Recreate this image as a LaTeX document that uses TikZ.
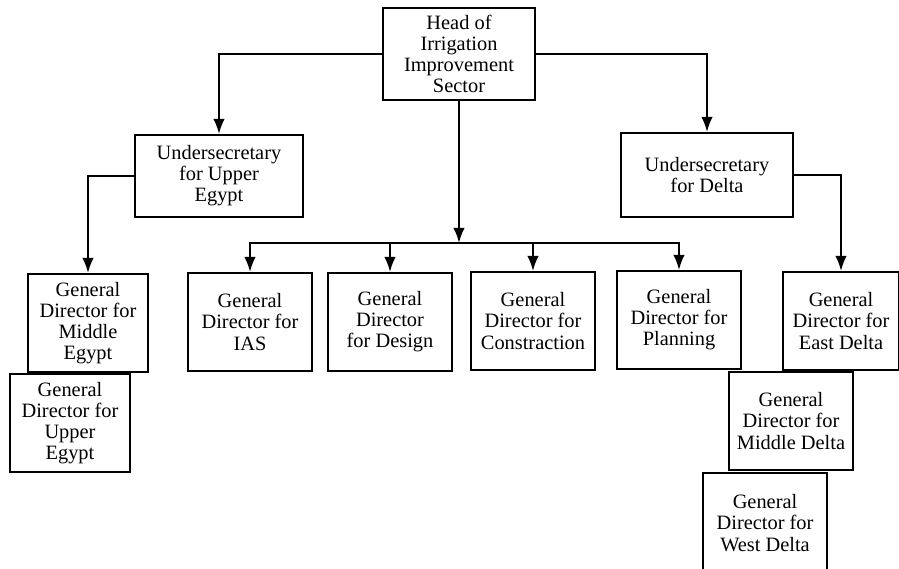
\documentclass[tikz,border=0pt]{standalone}
\usepackage{fontspec}
\setmainfont{Liberation Serif}
\usetikzlibrary{arrows.meta,positioning}

\begin{document}
\begin{tikzpicture}[
  x=0.025cm,y=-0.025cm,
  box/.style={draw, line width=1.3pt, align=center, inner sep=2pt, font=\fontsize{14.5}{15}\selectfont},
  gd/.style={box, minimum width=3.1cm, minimum height=2.45cm},
  arr/.style={-{Latex[length=3.8mm,width=2.9mm]}, line width=1.6pt}
]
\useasboundingbox (0,0) rectangle (899,569);
\node[box, minimum width=3.8cm, minimum height=2.3cm] (head) at (459,54) {Head of\\Irrigation\\Improvement\\Sector};
\node[box, minimum width=4.2cm, minimum height=2.05cm] (usUpper) at (219,176) {Undersecretary\\for Upper\\Egypt};
\node[box, minimum width=4.28cm, minimum height=2.1cm] (usDelta) at (707,175) {Undersecretary\\for Delta};
\node[gd, minimum width=3cm] (gdMidEgypt) at (88,323) {General\\Director for\\Middle\\Egypt};
\node[gd, minimum width=3cm] (gdUpEgypt) at (70,423) {General\\Director for\\Upper\\Egypt};
\node[gd] (gdIAS) at (250,322) {General\\Director for\\IAS};
\node[gd] (gdDesign) at (390,322) {General\\Director\\for Design};
\node[gd] (gdConstr) at (533,321) {General\\Director for\\Constraction};
\node[gd] (gdPlan) at (679,320) {General\\Director for\\Planning};
\node[gd, minimum width=2.9cm] (gdEast) at (841,321) {General\\Director for\\East Delta};
\node[gd] (gdMidDelta) at (791,421) {General\\Director for\\Middle Delta};
\node[gd, minimum height=2.5cm] (gdWest) at (765,523) {General\\Director for\\West Delta};
\coordinate (bar) at (459,243);
\draw[arr] (head.west) -| (usUpper.north);
\draw[arr] (head.east) -| (usDelta.north);
\draw[arr] (head.south) -- (bar);
\draw[arr] (bar) -| (gdIAS.north);
\draw[arr] (bar) -| (gdDesign.north);
\draw[arr] (bar) -| (gdConstr.north);
\draw[arr] (bar) -| (gdPlan.north);
\draw[arr] (usUpper.west) -| (gdMidEgypt.north);
\draw[arr] (usDelta.east) -| (gdEast.north);
\end{tikzpicture}
\end{document}
